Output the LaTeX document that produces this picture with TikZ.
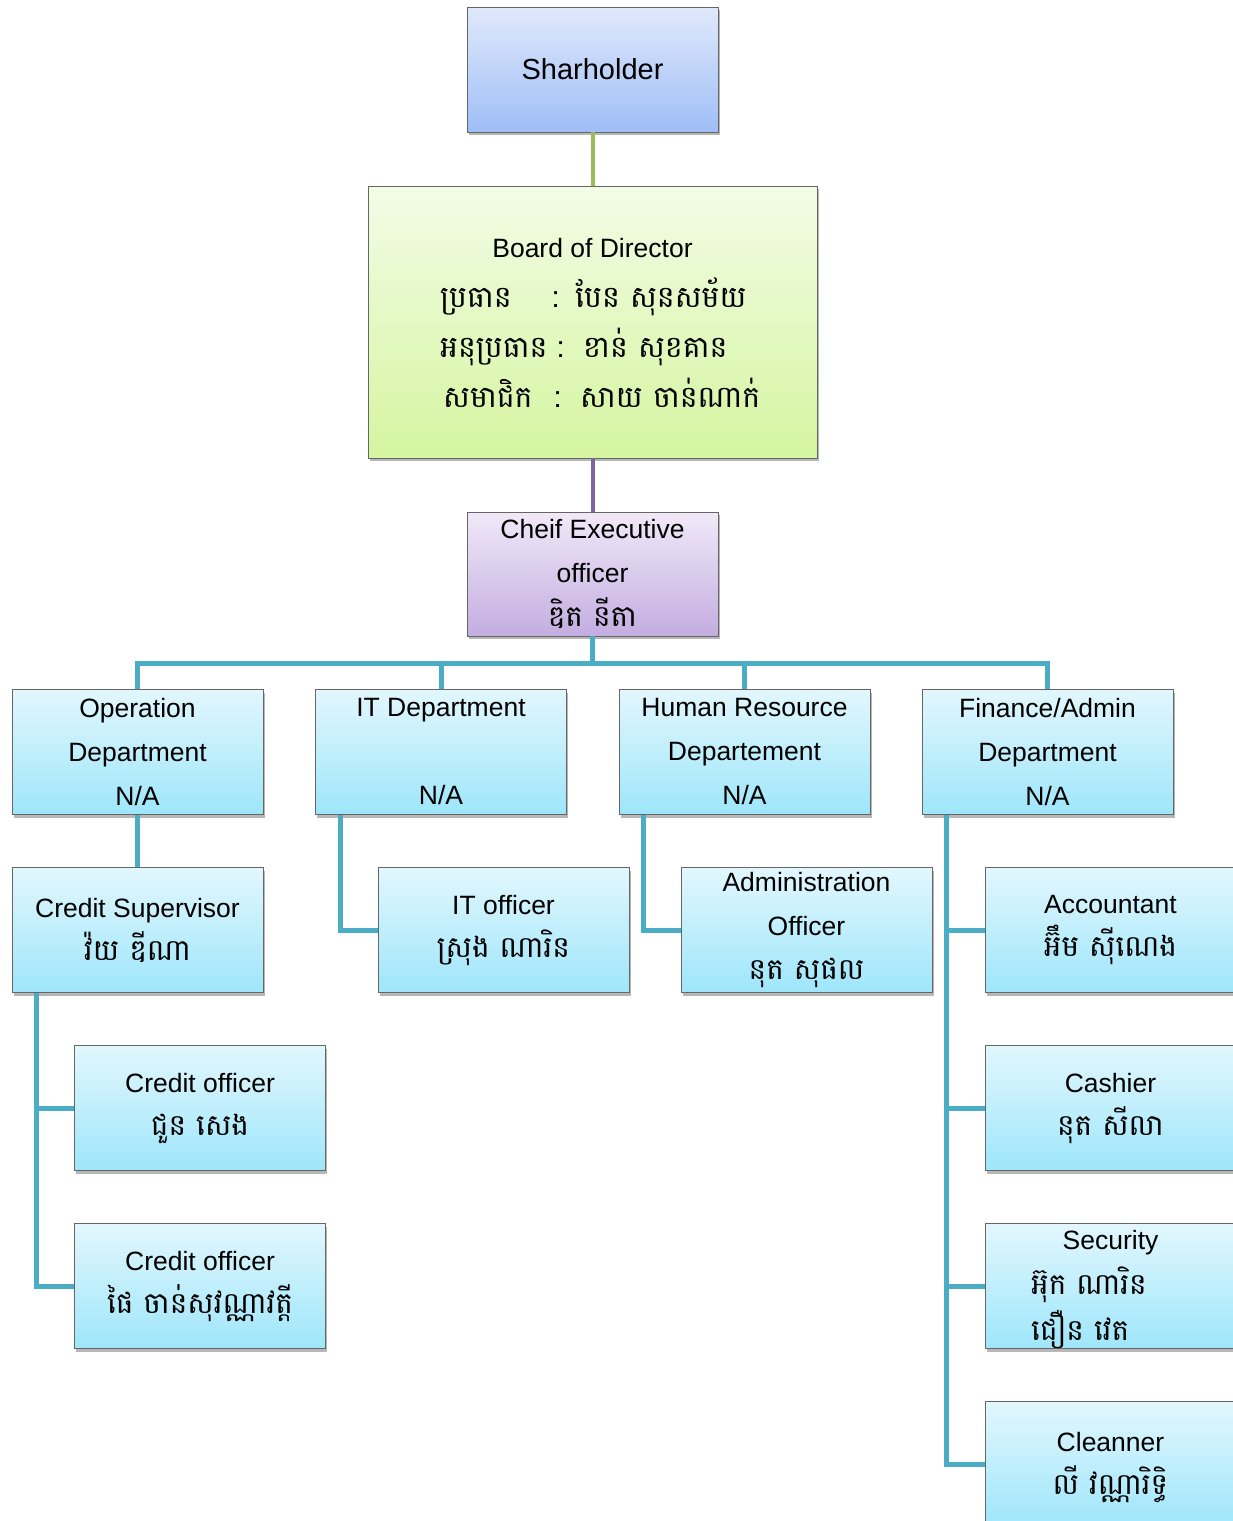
\documentclass[tikz,border=0pt]{standalone}
\usepackage{fontspec}
\setmainfont{Liberation Sans}
\newfontfamily\kh[Script=Khmer]{Battambang}
\newcommand\khb{\kh\fontsize{29.5}{43}\selectfont}
\usetikzlibrary{shadows}
\definecolor{cyanT}{HTML}{E2F7FD}
\definecolor{cyanB}{HTML}{9EE6FB}
\definecolor{blueT}{HTML}{E0E9FB}
\definecolor{blueB}{HTML}{9FBEF7}
\definecolor{greenT}{HTML}{F2FCE6}
\definecolor{greenB}{HTML}{D5F5A0}
\definecolor{purT}{HTML}{F1E9F8}
\definecolor{purB}{HTML}{C3ADE0}
\definecolor{lnGreen}{HTML}{9BBB59}
\definecolor{lnPur}{HTML}{8064A2}
\definecolor{lnTeal}{HTML}{4BACC6}
\tikzset{
  x=1pt, y=1pt,
  box/.style={draw=black!60, line width=0.8pt, minimum width=251pt, minimum height=125pt,
    align=center, inner sep=0pt, font=\fontsize{26.5}{44}\selectfont,
    drop shadow={shadow xshift=1.5pt, shadow yshift=-3pt, opacity=0.4, fill=black!70}},
  cbox/.style={box, top color=cyanT, bottom color=cyanB},
  txt/.style={inner sep=0pt, font=\fontsize{26.5}{44}\selectfont},
  khtxt/.style={inner sep=0pt, font=\khb},
  bkh/.style={inner sep=0pt, font=\fontsize{30}{50}\kh, anchor=base west},
  tl/.style={draw=lnTeal, line width=5pt},
}
\begin{document}
\begin{tikzpicture}
\clip (0,0) rectangle (1233,-1521);
\fill[white] (0,0) rectangle (1233,-1521);
% top boxes
\node[box, top color=blueT, bottom color=blueB, font=\fontsize{29}{44}\selectfont] (sh) at (592.5,-69.5) {Sharholder};
\node[box, top color=greenT, bottom color=greenB, minimum width=449pt, minimum height=272pt] (bod) at (592.5,-322) {};
\node[box, top color=purT, bottom color=purB, minimum height=124pt] (ceo) at (592.5,-574) {Cheif Executive\\officer\\{\khb ឌិត នីតា}};
% board text
\node[txt, anchor=base] (bodt) at (592.5,-257) {Board of Director};
\node[bkh] (l1a) at (440,-307) {ប្រធាន};
\node[bkh] (l1b) at (552,-307) {:};
\node[bkh] (l1c) at (575,-307) {បែន សុនសម័យ};
\node[bkh] (l2a) at (440,-357) {អនុប្រធាន};
\node[bkh] (l2b) at (557,-357) {:};
\node[bkh] (l2c) at (583,-357) {ខាន់ សុខគាន};
\node[bkh] (l3a) at (443,-407) {សមាជិក};
\node[bkh] (l3b) at (554,-407) {:};
\node[bkh] (l3c) at (580,-407) {សាយ ចាន់ណាក់};
% departments
\node[cbox] (op) at (137.5,-752) {Operation\\Department\\N/A};
\node[cbox] (it) at (441,-752) {IT Department\\\mbox{}\\N/A};
\node[cbox] (hr) at (744.5,-752) {Human Resource\\Departement\\N/A};
\node[cbox] (fin) at (1047.5,-752) {Finance/Admin\\Department\\N/A};
% second row
\node[cbox, font=\fontsize{26.5}{43}\selectfont] (cs) at (137.5,-930) {Credit Supervisor\\{\khb វ៉យ ឌីណា}};
\node[cbox, font=\fontsize{26.5}{43}\selectfont] (ito) at (503.5,-930) {IT officer\\{\khb ស្រុង ណារិន}};
\node[cbox] (adm) at (806.5,-930) {Administration\\Officer\\{\khb នុត សុផល}};
\node[cbox, font=\fontsize{26.5}{43}\selectfont] (acc) at (1110.5,-930) {Accountant\\{\khb អ៊ឹម ស៊ីណេង}};
% credit officers
\node[cbox, font=\fontsize{26.5}{43}\selectfont] (co1) at (200,-1108) {Credit officer\\{\khb ជួន សេង}};
\node[cbox, font=\fontsize{26.5}{43}\selectfont] (co2) at (200,-1286) {Credit officer\\{\khb ផៃ ចាន់សុវណ្ណាវត្តី}};
% finance staff
\node[cbox, font=\fontsize{26.5}{43}\selectfont] (cash) at (1110.5,-1108) {Cashier\\{\khb នុត សីលា}};
\node[cbox] (sec) at (1110.5,-1286) {};
\node[txt] (sect) at (1110.5,-1243) {Security};
\node[khtxt, anchor=west] (sec1) at (1031,-1285) {អ៊ុក ណារិន};
\node[khtxt, anchor=west] (sec2) at (1031,-1329) {ជឿន វេត};
\node[cbox] (cln) at (1110.5,-1464) {};
\node[txt] (clnt) at (1110.5,-1442) {Cleanner};
\node[khtxt] (cln1) at (1110.5,-1484) {លី វណ្ណារិទ្ធិ};
% connectors
\coordinate (busy) at (0,-663);
\draw[draw=lnGreen, line width=4pt] (sh.south) -- (bod.north);
\draw[draw=lnPur, line width=4pt] (bod.south) -- (ceo.north);
\draw[tl] (ceo.south) -- (ceo.south |- busy);
\draw[tl] (op.north) |- (fin.north |- busy) -- (fin.north);
\draw[tl] (it.north) -- (it.north |- busy);
\draw[tl] (hr.north) -- (hr.north |- busy);
\draw[tl] (op.south) -- (cs.north);
\draw[tl] ([xshift=25pt]it.south west) |- (ito.west);
\draw[tl] ([xshift=25pt]hr.south west) |- (adm.west);
\draw[tl] ([xshift=25pt]fin.south west) |- (cln.west);
\draw[tl] ([xshift=25pt]fin.south west |- acc.west) -- (acc.west);
\draw[tl] ([xshift=25pt]fin.south west |- cash.west) -- (cash.west);
\draw[tl] ([xshift=25pt]fin.south west |- sec.west) -- (sec.west);
\draw[tl] ([xshift=25pt]cs.south west) |- (co2.west);
\draw[tl] ([xshift=25pt]cs.south west |- co1.west) -- (co1.west);
\end{tikzpicture}
\end{document}
